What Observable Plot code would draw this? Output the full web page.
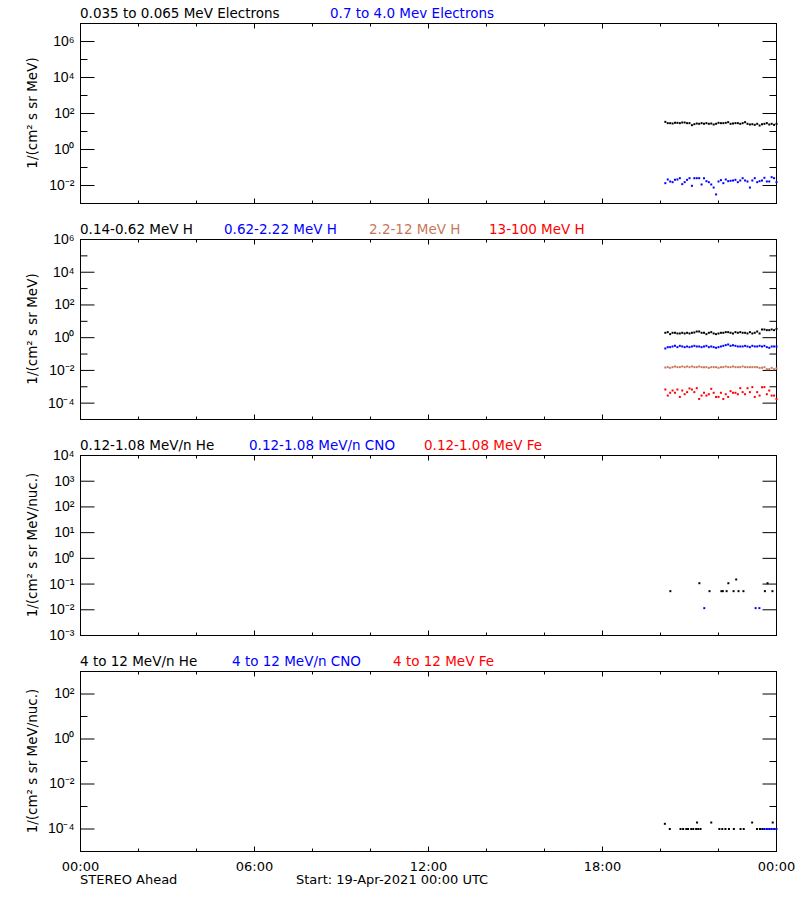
<!DOCTYPE html>
<html>
<head>
<meta charset="utf-8">
<script src="https://cdn.jsdelivr.net/npm/d3@7"></script>
<script src="https://cdn.jsdelivr.net/npm/@observablehq/plot@0.6"></script>
<style>
  body { margin: 0; background: #fff; }
  #chart { position: relative; width: 800px; height: 900px; font-family: "DejaVu Sans", sans-serif; color: #000; overflow: hidden; }
  .panel { position: absolute; left: 0; }
  .title { position: absolute; font-size: 13.5px; line-height: 1; white-space: nowrap; }
  .ylab { position: absolute; font-size: 13.5px; line-height: 1; white-space: nowrap; transform: translate(-50%, -50%) rotate(-90deg); }
  .foot { position: absolute; font-size: 13px; line-height: 1; white-space: nowrap; }
</style>
</head>
<body>
<div id="chart"></div>
<script>
// ---------------- data ----------------
const times = ["20:10","20:15","20:20","20:25","20:30","20:35","20:40","20:45","20:50","20:55",
  "21:00","21:05","21:10","21:15","21:20","21:25","21:30","21:35","21:40","21:45","21:50","21:55",
  "22:00","22:05","22:10","22:15","22:20","22:25","22:30","22:35","22:40","22:45","22:50","22:55",
  "23:00","23:05","23:10","23:15","23:20","23:25","23:30","23:35","23:40","23:45","23:50","23:55","24:00"];

// Panel 1: electrons
const elecLow = [34.4,29.1,29.1,27.8,30.3,30.3,29.1,31.6,31.6,29.1,29.1,22.5,25.5,27.8,26.7,29.1,26.7,29.1,26.7,27.8,
  24.5,26.7,30.3,29.1,29.1,30.3,33.0,26.7,27.8,29.1,29.1,26.7,29.1,33.0,26.7,24.5,25.5,23.4,26.7,21.5,
  25.5,26.7,29.1,24.5,26.7,23.4,26.7];
const elecHigh = [0.0135,0.0216,0.0167,0.0153,0.0206,0.0216,0.0255,0.0119,0.0153,0.0206,0.0255,0.0096,0.0255,0.0255,0.0255,
  0.0114,0.0255,0.0174,0.0153,0.0114,0.0077,0.0032,0.0167,0.0198,0.0135,0.0216,0.0174,0.0182,0.0190,0.0206,
  0.0153,0.0190,0.0255,0.0190,0.0167,0.0077,0.0190,0.0255,0.0153,0.0174,0.0190,0.0267,0.0167,0.0167,0.0290,0.0255,0.0153];

// Panel 2: protons
const hA = [1.99,2.18,1.65,1.99,1.99,1.81,1.81,1.99,1.81,1.99,1.81,1.99,2.08,2.39,2.39,1.99,1.99,1.65,1.99,2.18,
  1.81,1.65,1.81,1.99,1.99,2.18,2.18,1.99,1.81,2.18,1.99,2.18,1.99,1.99,1.81,2.18,1.81,1.99,2.39,1.81,
  3.17,3.17,2.89,2.89,3.17,2.89,3.48];
const hB = [0.219,0.264,0.264,0.290,0.318,0.264,0.318,0.290,0.264,0.290,0.264,0.290,0.318,0.290,0.290,0.264,0.290,0.318,0.264,0.290,
  0.264,0.240,0.264,0.290,0.318,0.350,0.384,0.318,0.350,0.318,0.290,0.290,0.290,0.318,0.290,0.264,0.318,0.290,0.290,0.318,
  0.290,0.318,0.264,0.240,0.290,0.290,0.290];
const hC = [0.0151,0.0158,0.0144,0.0158,0.0174,0.0158,0.0158,0.0174,0.0158,0.0174,0.0158,0.0174,0.0158,0.0158,0.0174,0.0158,0.0158,0.0158,0.0144,0.0158,
  0.0158,0.0158,0.0144,0.0158,0.0158,0.0174,0.0158,0.0158,0.0174,0.0158,0.0158,0.0158,0.0174,0.0158,0.0158,0.0158,0.0158,0.0158,0.0158,0.0144,
  0.0144,0.0158,0.0119,0.0119,0.0144,0.0119,0.0131];
const hD = [6.8e-4,2.9e-4,4.3e-4,5.9e-4,4.3e-4,6.8e-4,2.4e-4,5.9e-4,3.5e-4,4.7e-4,7.9e-4,6.8e-4,4.7e-4,8.2e-4,1.8e-4,2.9e-4,4.3e-4,2.9e-4,3.5e-4,7.5e-4,
  4.3e-4,2.4e-4,2.4e-4,4.3e-4,1.8e-4,3.5e-4,2.4e-4,5.4e-4,4.3e-4,4.3e-4,3.5e-4,8.2e-4,4.7e-4,3.5e-4,8.2e-4,4.7e-4,9.5e-4,2.4e-4,4.7e-4,2.9e-4,
  9.5e-4,9.5e-4,3.5e-4,5.9e-4,2.9e-4,2.9e-4,1.8e-4];

// Panel 3: low-energy heavy ions (sparse; hours, values)
const heLowT = [20.34,21.34,21.69,22.10,22.15,22.28,22.34,22.52,22.61,22.69,22.86,23.60,23.69,23.86];
const heLowV = [0.053,0.108,0.053,0.053,0.053,0.053,0.108,0.053,0.151,0.053,0.053,0.053,0.108,0.053];
const cnoLowT = [21.51,23.28,23.41];
const cnoLowV = [0.0116,0.0116,0.0116];
const feLowT = [];
const feLowV = [];

// Panel 4: high-energy heavy ions
const heHighT = [20.15,20.32,20.69,20.78,20.89,20.95,21.06,21.13,21.23,21.26,21.30,21.38,21.75,
  22.03,22.13,22.24,22.36,22.53,22.76,22.87,23.16,23.33,23.43,23.51,23.87];
const heHighV = [1.7e-4,1.0e-4,1.0e-4,1.0e-4,1.0e-4,1.0e-4,1.0e-4,1.0e-4,1.0e-4,1.94e-4,1.0e-4,1.0e-4,1.94e-4,
  1.0e-4,1.0e-4,1.0e-4,1.0e-4,1.0e-4,1.0e-4,1.0e-4,1.94e-4,1.0e-4,1.0e-4,1.0e-4,1.94e-4];
const cnoHighT = [23.58,23.67,23.75,23.83,23.92,24.0];
const cnoHighV = [1.0e-4,1.0e-4,1.0e-4,1.0e-4,1.0e-4,1.0e-4];
const feHighT = [];
const feHighV = [];

// Axis ticks and labels
const yDomains = [[1e-3, 1e7], [1e-5, 1e6], [1e-3, 1e4], [1e-5, 1e3]];
const yLabelTicks = [
  [1e-2, 1, 1e2, 1e4, 1e6],
  [1e-4, 1e-2, 1, 1e2, 1e4, 1e6],
  [1e-3, 1e-2, 1e-1, 1, 10, 100, 1e3, 1e4],
  [1e-4, 1e-2, 1, 1e2]
];
const yTickLabels = [
  ["10⁻²", "10⁰", "10²", "10⁴", "10⁶"],
  ["10⁻⁴", "10⁻²", "10⁰", "10²", "10⁴", "10⁶"],
  ["10⁻³", "10⁻²", "10⁻¹", "10⁰", "10¹", "10²", "10³", "10⁴"],
  ["10⁻⁴", "10⁻²", "10⁰", "10²"]
];
const yMinorTicks = [
  [1e-1, 10, 1e3, 1e5],
  [1e-3, 1e-1, 10, 1e3, 1e5],
  [],
  [1e-3, 1e-1, 10]
];
const xLabelTicks = [0, 6, 12, 18, 24];
const xTickLabels = ["00:00", "06:00", "12:00", "18:00", "00:00"];
const xMajorTicks = [6, 12, 18];
const xMinorTicks = [2, 4, 8, 10, 14, 16, 20, 22];

const yTitles = ["1/(cm² s sr MeV)", "1/(cm² s sr MeV)", "1/(cm² s sr MeV/nuc.)", "1/(cm² s sr MeV/nuc.)"];
const panelTitles = [
  ["0.035 to 0.065 MeV Electrons", "0.7 to 4.0 Mev Electrons"],
  ["0.14-0.62 MeV H", "0.62-2.22 MeV H", "2.2-12 MeV H", "13-100 MeV H"],
  ["0.12-1.08 MeV/n He", "0.12-1.08 MeV/n CNO", "0.12-1.08 MeV Fe"],
  ["4 to 12 MeV/n He", "4 to 12 MeV/n CNO", "4 to 12 MeV Fe"]
];
const footLeft = "STEREO Ahead";
const footStart = "Start: 19-Apr-2021 00:00 UTC";

// ---------------- styles / layout ----------------
const BLACK = "#000000", BLUE = "#0000ff", SIENNA = "#c8785a", RED = "#ff0000";
const titleColors = [[BLACK, BLUE], [BLACK, BLUE, SIENNA, RED], [BLACK, BLUE, RED], [BLACK, BLUE, RED]];
const titleLefts = [[80, 330], [80, 224, 369, 489], [80, 249, 424], [80, 232, 393]];
const frameTops = [23, 239, 455, 671];
const FRAME_H = 180, MT = 18;

const hours = s => { const [h, m] = s.split(":").map(Number); return h + m / 60; };
const regular = vals => times.map((s, i) => ({t: hours(s), v: vals[i]}));
const sparse = (ts, vs) => ts.map((t, i) => ({t, v: vs[i]}));

const series = [
  [[regular(elecLow), BLACK], [regular(elecHigh), BLUE]],
  [[regular(hA), BLACK], [regular(hB), BLUE], [regular(hC), SIENNA], [regular(hD), RED]],
  [[sparse(heLowT, heLowV), BLACK], [sparse(cnoLowT, cnoLowV), BLUE], [sparse(feLowT, feLowV), RED]],
  [[sparse(heHighT, heHighV), BLACK], [sparse(cnoHighT, cnoHighV), BLUE], [sparse(feHighT, feHighV), RED]]
];

const square = {draw(c) { c.rect(-1, -1, 2, 2); }};
const hline = len => ({draw(c) { c.moveTo(0, 0); c.lineTo(len, 0); }});
const vline = len => ({draw(c) { c.moveTo(0, 0); c.lineTo(0, len); }});
const tk = (data, opts) => Plot.dot(data, {...opts, stroke: BLACK, fill: "none", strokeWidth: 1});

const chart = document.getElementById("chart");

for (let p = 0; p < 4; p++) {
  const last = p === 3;
  const labelMap = new Map(yLabelTicks[p].map((v, i) => [v, yTickLabels[p][i]]));
  const xMap = new Map(xLabelTicks.map((v, i) => [v, xTickLabels[i]]));
  const marks = [
    Plot.frame({stroke: BLACK}),
    Plot.axisY(yLabelTicks[p], {tickSize: 0, tickPadding: 6, tickFormat: d => labelMap.get(d), label: null,
      fontFamily: "Liberation Sans, Arial, sans-serif", fontSize: 14}),
    tk(yLabelTicks[p], {y: d => d, frameAnchor: "left", symbol: hline(14)}),
    tk(yLabelTicks[p], {y: d => d, frameAnchor: "right", symbol: hline(-14)}),
    tk(yMinorTicks[p], {y: d => d, frameAnchor: "left", symbol: hline(7)}),
    tk(yMinorTicks[p], {y: d => d, frameAnchor: "right", symbol: hline(-7)}),
    tk(xMajorTicks, {x: d => d, frameAnchor: "top", symbol: vline(5)}),
    tk(xMajorTicks, {x: d => d, frameAnchor: "bottom", symbol: vline(-5)}),
    tk(xMinorTicks, {x: d => d, frameAnchor: "top", symbol: vline(3)}),
    tk(xMinorTicks, {x: d => d, frameAnchor: "bottom", symbol: vline(-3)}),
    ...series[p].map(([data, color]) => Plot.dot(data, {x: "t", y: "v", symbol: square, fill: color, stroke: "none"}))
  ];
  if (last) {
    marks.push(Plot.axisX(xLabelTicks, {tickSize: 0, tickPadding: 10, tickFormat: d => xMap.get(d), label: null,
      fontFamily: "DejaVu Sans, sans-serif", fontSize: 13}));
  }
  const mb = last ? 30 : 18;
  const svg = Plot.plot({
    width: 800,
    height: FRAME_H + MT + mb,
    marginLeft: 80, marginRight: 24, marginTop: MT, marginBottom: mb,
    style: {background: "transparent", overflow: "visible", color: BLACK, fontFamily: "DejaVu Sans, sans-serif", fontSize: "13px"},
    x: last ? {domain: [0, 24]} : {domain: [0, 24], axis: null},
    y: {type: "log", domain: yDomains[p]},
    marks
  });
  const wrap = document.createElement("div");
  wrap.className = "panel";
  wrap.style.top = (frameTops[p] - MT) + "px";
  wrap.appendChild(svg);
  chart.appendChild(wrap);
}

// titles and y labels (HTML text around each plot)
for (let p = 0; p < 4; p++) {
  panelTitles[p].forEach((txt, i) => {
    const d = document.createElement("div");
    d.className = "title";
    d.textContent = txt;
    d.style.left = titleLefts[p][i] + "px";
    d.style.top = (frameTops[p] - 16) + "px";
    d.style.color = titleColors[p][i];
    chart.appendChild(d);
  });
  const yl = document.createElement("div");
  yl.className = "ylab";
  yl.textContent = yTitles[p];
  yl.style.left = "33px";
  yl.style.top = (frameTops[p] + FRAME_H / 2) + "px";
  chart.appendChild(yl);
}

const f1 = document.createElement("div");
f1.className = "foot"; f1.textContent = footLeft; f1.style.left = "80px"; f1.style.top = "873px";
chart.appendChild(f1);
const f2 = document.createElement("div");
f2.className = "foot"; f2.textContent = footStart; f2.style.left = "296px"; f2.style.top = "873px";
chart.appendChild(f2);
</script>
</body>
</html>
